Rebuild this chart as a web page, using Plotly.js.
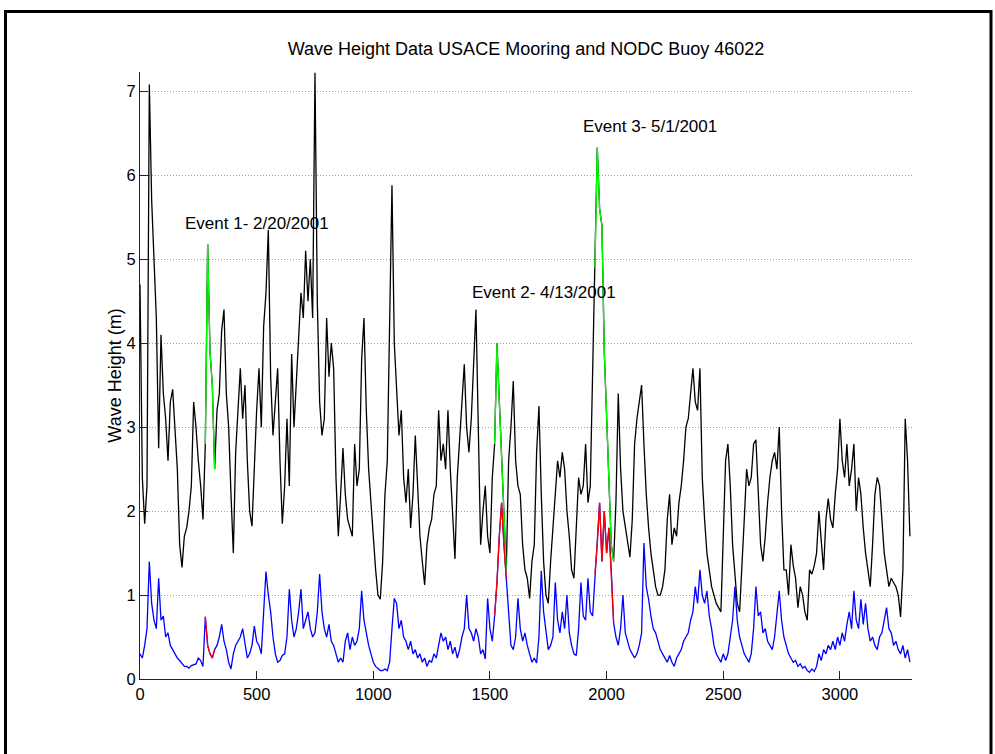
<!DOCTYPE html>
<html>
<head>
<meta charset="utf-8">
<script src="https://cdn.plot.ly/plotly-3.0.1.min.js"></script>
<style>html,body{margin:0;padding:0;background:#fff;}#chart{width:995px;height:754px;}</style>
</head>
<body>
<div id="chart"></div>
<script>
// sample spacing of the time index (data units between points)
const STEP = 10;

// NODC Buoy 46022 wave height (m), sampled every 10 points from x = 0
const buoyHeight = [
  4.7, 2.4, 1.85, 2.3, 7.08, 5.7, 5.0, 4.3, 2.75, 4.1,
  3.4, 3.1, 2.6, 3.3, 3.45, 3.0, 2.5, 1.6, 1.33, 1.7,
  1.8, 2.0, 2.3, 3.3, 3.0, 2.6, 2.3, 1.9, 2.8, 5.18,
  3.9, 3.5, 2.5, 3.2, 3.4, 4.15, 4.4, 3.4, 3.0, 2.2,
  1.5, 2.7, 3.2, 3.7, 3.1, 3.5, 2.6, 2.0, 1.82, 2.6,
  3.2, 3.7, 3.0, 4.2, 4.6, 5.35, 3.6, 2.9, 3.3, 3.7,
  2.6, 1.85, 2.3, 3.1, 2.3, 3.87, 3.0, 3.5, 4.0, 4.6,
  4.3, 5.1, 4.5, 5.0, 4.3, 7.22, 4.5, 3.3, 2.9, 3.1,
  4.3, 3.6, 4.0, 3.7, 2.4, 1.7, 2.2, 2.75, 2.2, 1.9,
  1.8, 1.7, 2.8, 2.3, 2.5, 3.8, 4.3, 3.2, 2.5, 2.1,
  1.6, 1.3, 1.0, 0.95, 1.4, 2.2, 2.6, 4.3, 5.88, 4.0,
  3.4, 2.9, 3.2, 2.4, 2.1, 2.5, 1.8, 2.2, 2.9, 2.2,
  1.7, 1.4, 1.12, 1.6, 1.8, 1.9, 2.2, 2.3, 3.2, 2.6,
  2.8, 2.5, 3.2, 2.5, 2.0, 1.43, 2.4, 2.9, 3.4, 3.75,
  3.0, 2.7, 3.1, 3.8, 4.4, 3.0, 1.6, 2.0, 2.3, 1.7,
  1.5, 2.4, 2.8, 4.0, 3.3, 2.6, 1.9, 1.3, 2.6, 3.0,
  3.55, 2.6, 2.3, 2.2, 1.6, 1.3, 1.2, 0.96, 1.4, 1.6,
  2.7, 3.25, 2.2, 1.4, 1.0, 0.9, 1.4, 1.8, 2.2, 2.6,
  2.4, 2.7, 2.5, 2.0, 1.7, 1.3, 1.2, 1.9, 2.4, 2.2,
  2.3, 2.8, 2.1, 2.3, 3.8, 4.9, 6.33, 5.6, 5.4, 3.9,
  3.2, 2.5, 1.6, 1.4, 2.1, 3.4, 2.5, 2.0, 1.8, 1.6,
  1.45, 1.9, 2.8, 3.1, 3.3, 3.5, 2.8, 2.2, 1.8, 1.5,
  1.3, 1.1, 1.0, 1.0, 1.1, 1.3, 1.9, 2.2, 1.6, 1.8,
  1.7, 2.1, 2.3, 2.6, 3.0, 3.1, 3.4, 3.7, 3.3, 3.2,
  3.7, 2.4, 1.9, 1.5, 1.3, 1.1, 1.0, 0.9, 0.85, 0.8,
  1.7, 2.6, 2.8, 2.3, 1.6, 1.2, 0.9, 0.8, 1.3, 1.9,
  2.5, 2.3, 2.4, 2.8, 2.85, 2.2, 1.6, 1.4, 1.7, 2.1,
  2.4, 2.6, 2.7, 2.5, 3.0, 2.0, 1.3, 1.3, 1.0, 1.6,
  1.35, 1.2, 0.85, 1.1, 1.0, 0.8, 0.7, 1.3, 1.25, 1.35,
  1.5, 2.0, 1.6, 1.3, 1.9, 2.15, 1.9, 1.8, 2.2, 2.5,
  3.1, 2.6, 2.4, 2.8, 2.3, 2.5, 2.8, 2.0, 2.4, 2.2,
  1.8, 1.5, 1.3, 1.1, 1.6, 2.2, 2.4, 2.3, 1.9, 1.5,
  1.3, 1.1, 1.2, 1.15, 1.1, 1.0, 0.74, 1.3, 3.1, 2.6,
  1.7
];

// USACE mooring wave height (m), same sampling
const mooringHeight = [
  0.3, 0.25, 0.4, 0.6, 1.4, 0.9, 0.7, 0.6, 1.2, 0.7,
  0.75, 0.5, 0.55, 0.4, 0.35, 0.3, 0.25, 0.22, 0.18, 0.15,
  0.15, 0.13, 0.16, 0.17, 0.18, 0.25, 0.22, 0.15, 0.74, 0.4,
  0.3, 0.25, 0.35, 0.4, 0.5, 0.65, 0.45, 0.35, 0.2, 0.12,
  0.3, 0.4, 0.45, 0.5, 0.6, 0.4, 0.25, 0.3, 0.4, 0.63,
  0.45, 0.4, 0.3, 0.8, 1.28, 1.0, 0.8, 0.5, 0.3, 0.2,
  0.22, 0.28, 0.3, 0.5, 1.07, 0.7, 0.5, 0.6, 0.8, 1.07,
  0.6, 0.7, 0.8, 0.6, 0.5, 0.55, 0.8, 1.25, 0.8, 0.6,
  0.5, 0.65, 0.45, 0.4, 0.3, 0.2, 0.25, 0.2, 0.45, 0.55,
  0.35, 0.5, 0.4, 0.45, 0.6, 1.05, 0.7, 0.55, 0.4, 0.3,
  0.2, 0.15, 0.12, 0.1, 0.1, 0.12, 0.1, 0.2, 0.6, 0.96,
  0.9, 0.6, 0.7, 0.5, 0.45, 0.35, 0.45, 0.3, 0.35, 0.25,
  0.3, 0.2, 0.25, 0.15, 0.22, 0.2, 0.3, 0.25, 0.4, 0.55,
  0.45, 0.5, 0.35, 0.45, 0.3, 0.38, 0.25, 0.35, 0.5, 0.6,
  1.0, 0.6, 0.55, 0.45, 0.6, 0.5, 0.3, 0.35, 0.24, 0.96,
  0.6, 0.45, 0.75, 1.15, 1.7, 2.1, 1.6, 1.2, 0.7, 0.4,
  0.35, 0.5, 0.96, 0.6, 0.45, 0.55, 0.4, 0.3, 0.2, 0.25,
  0.19, 0.5, 1.29, 0.8, 0.6, 0.35, 0.4, 0.5, 1.15, 0.7,
  0.55, 0.8, 0.6, 1.0, 0.55, 0.4, 0.3, 0.28, 0.6, 1.15,
  0.75, 0.7, 1.2, 0.8, 0.75, 1.25, 1.6, 2.1, 1.4, 2.0,
  1.5, 1.8, 1.3, 0.67, 0.5, 0.4, 0.6, 1.0, 0.55, 0.45,
  0.35, 0.3, 0.25, 0.3, 0.4, 0.55, 1.62, 1.1, 0.95, 0.75,
  0.6, 0.55, 0.45, 0.35, 0.3, 0.25, 0.2, 0.28, 0.2, 0.15,
  0.25, 0.3, 0.35, 0.45, 0.5, 0.55, 0.7, 0.8, 1.1, 0.9,
  1.3, 1.0, 0.9, 1.05, 0.75, 0.6, 0.4, 0.3, 0.25, 0.2,
  0.3, 0.22, 0.3, 0.5, 0.7, 1.1, 0.7, 0.5, 0.4, 0.3,
  0.25, 0.2, 0.3, 0.6, 1.1, 0.75, 0.8, 0.55, 0.6, 0.45,
  0.4, 0.35, 0.5, 0.8, 1.05, 0.7, 0.5, 0.4, 0.3, 0.25,
  0.2, 0.22, 0.15, 0.18, 0.13, 0.15, 0.1, 0.08, 0.12, 0.09,
  0.15, 0.3, 0.22, 0.35, 0.3, 0.4, 0.35, 0.45, 0.35, 0.5,
  0.4, 0.55, 0.45, 0.65, 0.8, 0.6, 1.05, 0.7, 0.6, 0.95,
  0.65, 0.9, 0.6, 0.45, 0.5, 0.4, 0.35, 0.5, 0.55, 0.7,
  0.85, 0.6, 0.55, 0.4, 0.45, 0.35, 0.3, 0.4, 0.25, 0.35,
  0.2
];

// storm events (time-index ranges) and their labels
const eventStart = [280, 1520, 1950];
const eventEnd   = [320, 1570, 2030];
const eventLabels = ['Event 1- 2/20/2001', 'Event 2- 4/13/2001', 'Event 3- 5/1/2001'];
const eventLabelX = [186, 1415, 1891];
const eventLabelY = [5.43, 4.6, 6.58];

const xTicks = [0, 500, 1000, 1500, 2000, 2500, 3000];
const yTicks = [0, 1, 2, 3, 4, 5, 6, 7];

const xIdx = buoyHeight.map((_, i) => i * STEP);
const FONT = 'Liberation Sans, Arial, Helvetica, sans-serif';

function segment(arr, s, e) {
  const a = s / STEP, b = e / STEP + 1;
  return { x: xIdx.slice(a, b), y: arr.slice(a, b) };
}

const traces = [
  { type: 'scatter', mode: 'lines', x: xIdx, y: buoyHeight, line: { color: '#000000', width: 1.3 }, hoverinfo: 'skip' },
  { type: 'scatter', mode: 'lines', x: xIdx, y: mooringHeight, line: { color: '#0000ff', width: 1.3 }, hoverinfo: 'skip' }
];
for (let k = 0; k < eventStart.length; k++) {
  const g = segment(buoyHeight, eventStart[k], eventEnd[k]);
  traces.push({ type: 'scatter', mode: 'lines', x: g.x, y: g.y, line: { color: '#00ff00', width: 1.3 }, hoverinfo: 'skip' });
  const r = segment(mooringHeight, eventStart[k], eventEnd[k]);
  traces.push({ type: 'scatter', mode: 'lines', x: r.x, y: r.y, line: { color: '#ff0000', width: 1.3 }, hoverinfo: 'skip' });
}

const annotations = eventLabels.map((t, i) => ({
  text: t, x: eventLabelX[i], y: eventLabelY[i], xref: 'x', yref: 'y',
  xanchor: 'left', yanchor: 'middle', showarrow: false,
  font: { family: FONT, size: 17, color: '#000' }
}));

const layout = {
  width: 995, height: 754,
  paper_bgcolor: '#ffffff', plot_bgcolor: '#ffffff',
  margin: { l: 140, r: 83, t: 72, b: 75, pad: 0 },
  showlegend: false,
  title: {
    text: 'Wave Height Data USACE Mooring and NODC Buoy 46022',
    font: { family: FONT, size: 18, color: '#000' },
    x: 0.5, xref: 'paper', xanchor: 'center',
    y: 1 - 49 / 754, yref: 'container', yanchor: 'middle'
  },
  xaxis: {
    range: [0, 3309], tickmode: 'array', tickvals: xTicks, ticktext: xTicks.map(String),
    ticks: 'inside', ticklen: 8, tickcolor: '#222', tickwidth: 1,
    showline: true, linecolor: '#222', linewidth: 1,
    showgrid: false, zeroline: false,
    tickfont: { family: FONT, size: 16.5, color: '#000' }
  },
  yaxis: {
    range: [0, 7.23], tickmode: 'array', tickvals: yTicks, ticktext: yTicks.map(String),
    ticks: 'inside', ticklen: 8, tickcolor: '#222', tickwidth: 1,
    showline: true, linecolor: '#222', linewidth: 1,
    showgrid: true, gridcolor: '#a0a0a0', griddash: '1px,2px', gridwidth: 1,
    zeroline: false,
    tickfont: { family: FONT, size: 16.5, color: '#000' },
    title: { text: 'Wave Height (m)', font: { family: FONT, size: 18, color: '#000' }, standoff: 0 }
  },
  annotations: annotations,
  shapes: [
    { type: 'rect', xref: 'paper', yref: 'paper',
      x0: (5.5 - 140) / 772, x1: (991 - 140) / 772,
      y0: -0.3, y1: (679 - 11.5) / 607,
      line: { color: '#000', width: 3 }, fillcolor: 'rgba(0,0,0,0)', layer: 'above' }
  ]
};

Plotly.newPlot('chart', traces, layout, { displayModeBar: false, staticPlot: true });
</script>
</body>
</html>
